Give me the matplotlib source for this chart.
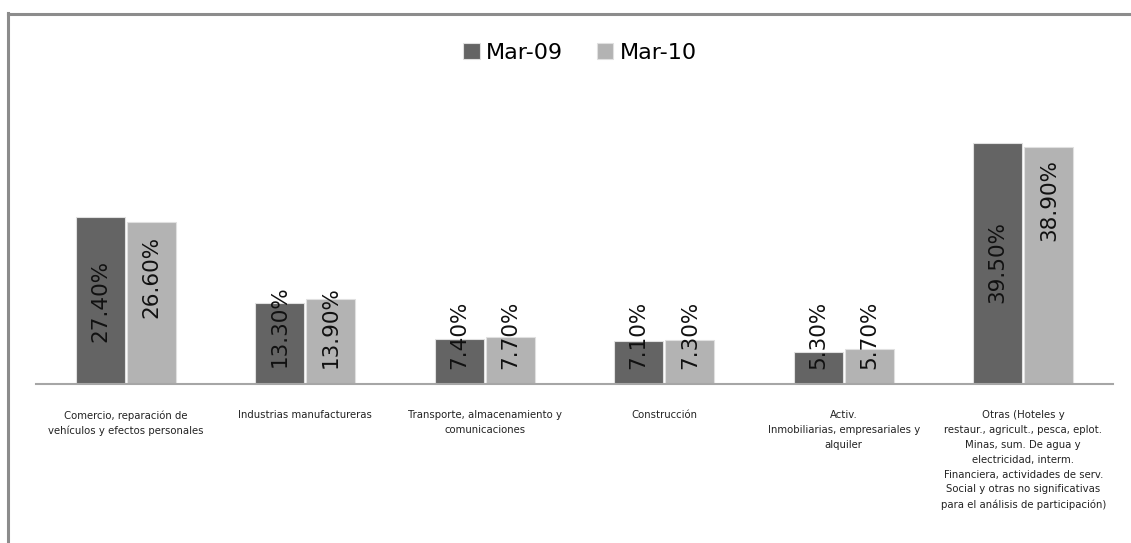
import matplotlib
matplotlib.use("Agg")
import matplotlib.pyplot as plt
import numpy as np
from matplotlib.lines import Line2D

categories = [
    "Comercio, reparación de\nvehículos y efectos personales",
    "Industrias manufactureras",
    "Transporte, almacenamiento y\ncomunicaciones",
    "Construcción",
    "Activ.\nInmobiliarias, empresariales y\nalquiler",
    "Otras (Hoteles y\nrestaur., agricult., pesca, eplot.\nMinas, sum. De agua y\nelectricidad, interm.\nFinanciera, actividades de serv.\nSocial y otras no significativas\npara el análisis de participación)",
]
mar09 = [27.4, 13.3, 7.4, 7.1, 5.3, 39.5]
mar10 = [26.6, 13.9, 7.7, 7.3, 5.7, 38.9]
series_names = ["Mar-09", "Mar-10"]

# where the value labels sit (centre, in data units), as in the original
label_pos09 = [13.6, 9.5, 8.0, 8.0, 8.0, 20.0]
label_pos10 = [17.6, 9.4, 8.0, 8.0, 8.0, 30.2]

W, H = 1131, 543
fig = plt.figure(figsize=(W / 100, H / 100), dpi=100)
ax = fig.add_axes([36 / W, (H - 384) / H, (1113 - 36) / W, 284 / H])

x = np.arange(len(categories))
bw = 0.273
b1 = ax.bar(x - bw / 2 - 0.006, mar09, bw, color="#646464", edgecolor="#e0e0e0",
            linewidth=0.8, label=series_names[0], zorder=2)
b2 = ax.bar(x + bw / 2 + 0.006, mar10, bw, color="#b3b3b3", edgecolor="#e0e0e0",
            linewidth=0.8, label=series_names[1], zorder=2)

for xs, vals, pos in [(x - bw / 2 - 0.006, mar09, label_pos09), (x + bw / 2 + 0.006, mar10, label_pos10)]:
    for xi, v, p in zip(xs, vals, pos):
        ax.text(xi, p, "%.2f%%" % v, rotation=90, ha="center", va="center",
                fontsize=15.5, color="#111111", zorder=3)

ax.set_xlim(-0.5, 5.5)
ax.set_ylim(0, 284 / 6.095)
ax.set_yticks([])
ax.set_xticks(x)
ax.set_xticklabels(categories, fontsize=7.3, linespacing=1.6, va="top", color="#222222")
ax.tick_params(axis="x", length=0, pad=19)
for s in ["top", "right", "left"]:
    ax.spines[s].set_visible(False)
ax.spines["bottom"].set_color("#a6a6a6")
ax.spines["bottom"].set_linewidth(1.5)

fig.legend(handles=[b1, b2], labels=series_names, loc="center", bbox_to_anchor=(580 / W, 1 - 53 / H),
           ncol=2, frameon=False, fontsize=16, handlelength=0.75, handleheight=0.75,
           handletextpad=0.3, columnspacing=1.5)

# chart frame (left and top edges visible in the crop)
fig.add_artist(Line2D([7.5 / W, 7.5 / W], [0, 1 - 13 / H], color="#8c8c8c", lw=2.2))
fig.add_artist(Line2D([7.5 / W, 1], [1 - 13.5 / H, 1 - 13.5 / H], color="#8c8c8c", lw=2.2))

fig.savefig("out.png", dpi=100, facecolor="white")
